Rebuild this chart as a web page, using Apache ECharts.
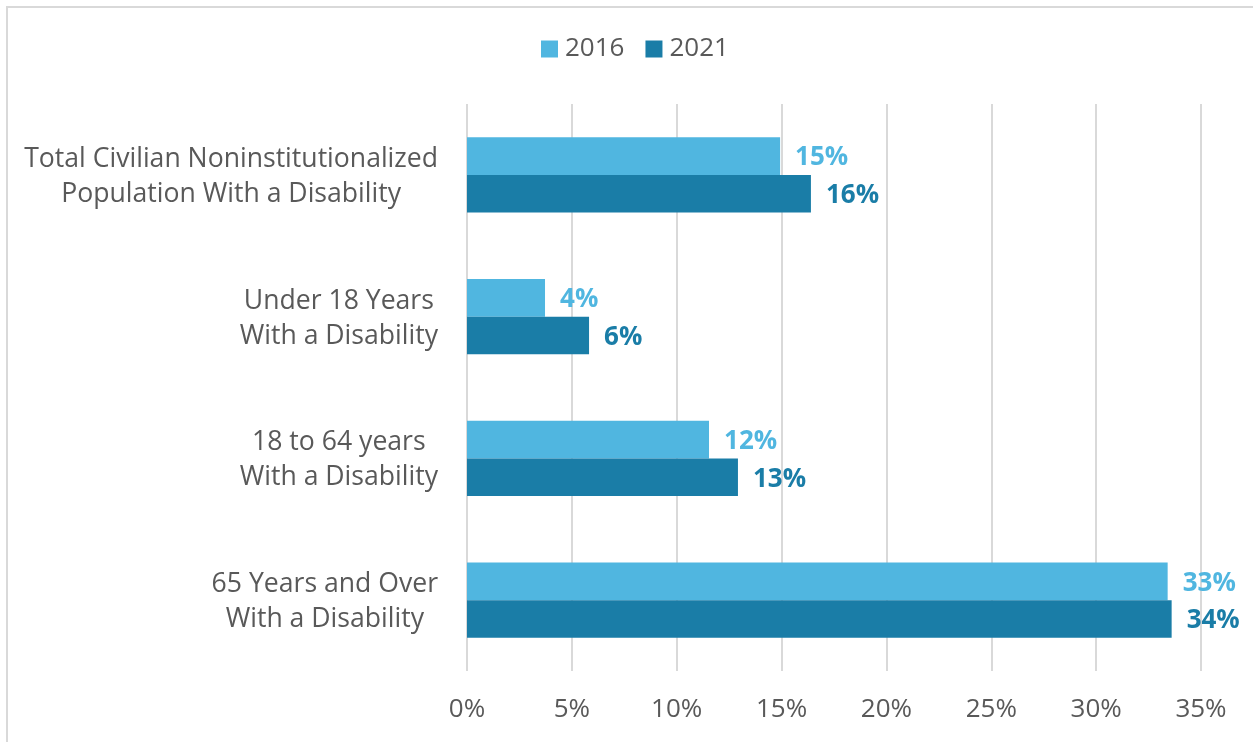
<!DOCTYPE html>
<html>
<head>
<meta charset="utf-8">
<script src="https://cdn.jsdelivr.net/npm/echarts@6/dist/echarts.min.js"></script>
<style>
  html, body { margin: 0; padding: 0; background: #ffffff; }
  #frame { position: absolute; left: 6px; top: 6px; width: 1400px; height: 900px;
           border-top: 2px solid #D9D9D9; border-left: 2px solid #D9D9D9; pointer-events: none; }
  #chart { position: absolute; left: 0; top: 0; width: 1253px; height: 742px; }
</style>
</head>
<body>
<div id="chart"></div>
<div id="frame"></div>
<script>
const categories = [
  'Total Civilian Noninstitutionalized\nPopulation With a Disability',
  'Under 18 Years\nWith a Disability',
  '18 to 64 years\nWith a Disability',
  '65 Years and Over\nWith a Disability'
];
const seriesNames = ['2016', '2021'];
const values2016 = [14.93, 3.72, 11.54, 33.41];
const values2021 = [16.40, 5.82, 12.92, 33.60];
const xTicks = { min: 0, max: 35, interval: 5 };

const colors = ['#50B6E0', '#1A7DA7'];
const textGray = '#595959';
const fontFamily = '"Open Sans", "Noto Sans", sans-serif';

const chart = echarts.init(document.getElementById('chart'), null, { renderer: 'canvas' });

function makeSeries(name, data, color) {
  return {
    name: name,
    type: 'bar',
    data: data,
    barGap: '0%',
    barCategoryGap: '47%',
    itemStyle: { color: color },
    label: {
      show: true,
      position: 'right',
      distance: 15,
      offset: [0, 2],
      color: color,
      fontFamily: fontFamily,
      fontSize: 26,
      fontWeight: 'bold',
      formatter: p => Math.round(p.value) + '%'
    }
  };
}

chart.setOption({
  animation: false,
  color: colors,
  textStyle: { fontFamily: fontFamily },
  legend: {
    data: seriesNames,
    top: 36,
    left: 541,
    padding: 0,
    icon: 'rect',
    itemWidth: 17,
    itemHeight: 17,
    itemGap: 21,
    textStyle: { color: textGray, fontSize: 26, fontFamily: fontFamily, padding: [0, 0, 0, 2] }
  },
  grid: { left: 467, right: 52, top: 104, bottom: 71, containLabel: false },
  xAxis: {
    type: 'value',
    min: xTicks.min,
    max: xTicks.max,
    interval: xTicks.interval,
    axisLine: { show: false },
    axisTick: { show: false },
    splitLine: { show: true, lineStyle: { color: '#D9D9D9', width: 2 } },
    axisLabel: {
      margin: 26,
      color: textGray,
      fontSize: 26,
      fontFamily: fontFamily,
      formatter: '{value}%'
    }
  },
  yAxis: {
    type: 'category',
    inverse: true,
    data: categories,
    axisLine: { show: false },
    axisTick: { show: false },
    axisLabel: {
      margin: 29,
      align: 'right',
      padding: [4, 0, 0, 0],
      color: textGray,
      fontSize: 26.6,
      lineHeight: 35,
      fontFamily: fontFamily,
      formatter: v => v.split('\n').map(l => '{c|' + l + '}').join('\n'),
      rich: {
        c: { align: 'center', color: textGray, fontSize: 26.6, lineHeight: 35, fontFamily: fontFamily }
      }
    }
  },
  series: [
    makeSeries(seriesNames[0], values2016, colors[0]),
    makeSeries(seriesNames[1], values2021, colors[1])
  ]
});
</script>
</body>
</html>
